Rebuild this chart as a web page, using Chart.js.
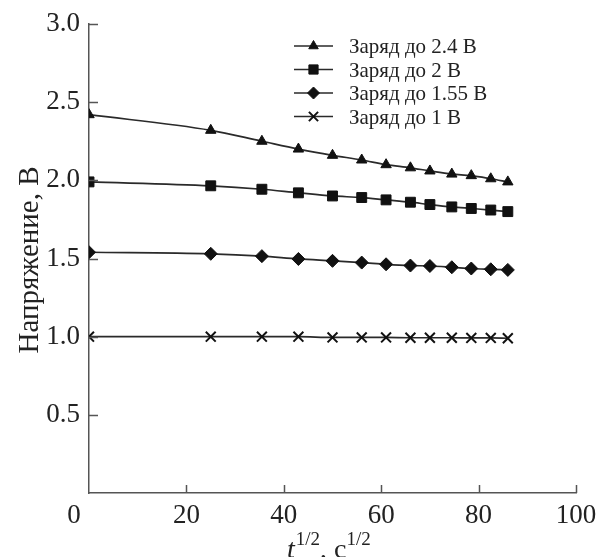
<!DOCTYPE html>
<html>
<head>
<meta charset="utf-8">
<script src="https://cdn.jsdelivr.net/npm/chart.js@4"></script>
<style>
  html, body { margin: 0; padding: 0; background: #fff; }
  #chart { display: block; }
</style>
</head>
<body>
<canvas id="chart" width="596" height="557"></canvas>
<script>
// t^(1/2) values
const sqrtTime = [0, 25, 35.5, 43, 50, 56, 61, 66, 70, 74.5, 78.5, 82.5, 86];

const seriesLabels = ["Заряд до 2.4 В", "Заряд до 2 В", "Заряд до 1.55 В", "Заряд до 1 В"];

const charge24 = [2.42, 2.32, 2.25, 2.20, 2.16, 2.13, 2.10, 2.08, 2.06, 2.04, 2.03, 2.01, 1.99];
const charge2 = [1.99, 1.965, 1.943, 1.92, 1.90, 1.89, 1.875, 1.86, 1.845, 1.83, 1.82, 1.81, 1.80];
const charge155 = [1.54, 1.53, 1.515, 1.497, 1.485, 1.474, 1.463, 1.455, 1.452, 1.444, 1.436, 1.431, 1.427];
const charge1 = [1.0, 1.0, 1.0, 1.0, 0.995, 0.995, 0.995, 0.993, 0.993, 0.993, 0.992, 0.992, 0.99];

const xTicks = [0, 20, 40, 60, 80, 100];
const yTicks = [0, 0.5, 1.0, 1.5, 2.0, 2.5, 3.0];

const FONT = "'Liberation Serif', 'DejaVu Serif', serif";
const LINE = "#2a2a2a";
const MARK = "#111";
const AXIS = "#555";
const TICK_SIZE = 27;

const styles = [
  { pointStyle: "triangle", radius: 6, borderWidth: 1 },
  { pointStyle: "rect", radius: 7, borderWidth: 1 },
  { pointStyle: "rectRot", radius: 6.5, borderWidth: 1 },
  { pointStyle: "crossRot", radius: 7, borderWidth: 2 },
];

function toPoints(values) {
  return sqrtTime.map((t, i) => ({ x: t, y: values[i] }));
}

const allSeries = [charge24, charge2, charge155, charge1];

const datasets = allSeries.map((vals, i) => ({
  label: seriesLabels[i],
  data: toPoints(vals),
  borderColor: LINE,
  borderWidth: 1.7,
  backgroundColor: MARK,
  pointBackgroundColor: MARK,
  pointBorderColor: MARK,
  pointStyle: styles[i].pointStyle,
  pointRadius: styles[i].radius,
  pointBorderWidth: styles[i].borderWidth,
  cubicInterpolationMode: "monotone",
  fill: false,
}));

function noScalePadding(s) {
  s.paddingLeft = 0;
  s.paddingRight = 0;
  s.paddingTop = 0;
  s.paddingBottom = 0;
}

// tick marks on the inside, shared "0", legend and axis titles
const decorPlugin = {
  id: "decor",
  afterDraw(chart) {
    const { ctx, chartArea, scales } = chart;
    const xs = scales.x, ys = scales.y;
    ctx.save();
    ctx.strokeStyle = AXIS;
    ctx.lineWidth = 1.5;
    ctx.beginPath();
    yTicks.forEach(v => {
      if (v === 0) return;
      const py = Math.round(ys.getPixelForValue(v)) + 0.5;
      ctx.moveTo(chartArea.left, py);
      ctx.lineTo(chartArea.left + 9, py);
    });
    xTicks.forEach(v => {
      if (v === 0) return;
      const px = Math.round(xs.getPixelForValue(v)) + 0.5;
      ctx.moveTo(px, chartArea.bottom);
      ctx.lineTo(px, chartArea.bottom - 8);
    });
    ctx.stroke();

    // common origin label
    ctx.fillStyle = "#222";
    ctx.font = TICK_SIZE + "px " + FONT;
    ctx.textAlign = "center";
    ctx.textBaseline = "middle";
    ctx.fillText("0", xs.getPixelForValue(0) - 15, chartArea.bottom + 23);

    // legend
    chart.data.datasets.forEach((ds, i) => {
      const y = 46 + i * 23.5;
      ctx.strokeStyle = LINE;
      ctx.lineWidth = 1.5;
      ctx.beginPath();
      ctx.moveTo(294, y);
      ctx.lineTo(333, y);
      ctx.stroke();
      ctx.fillStyle = MARK;
      ctx.strokeStyle = MARK;
      ctx.lineWidth = styles[i].borderWidth;
      Chart.helpers.drawPoint(ctx, {
        pointStyle: styles[i].pointStyle,
        radius: styles[i].radius - 0.5,
        rotation: 0,
        borderWidth: styles[i].borderWidth,
      }, 313.5, y);
      ctx.fillStyle = "#222";
      ctx.font = "21px " + FONT;
      ctx.textAlign = "left";
      ctx.textBaseline = "alphabetic";
      ctx.fillText(ds.label, 349, y + 7);
    });

    // y title
    ctx.save();
    ctx.translate(30, 260);
    ctx.rotate(-Math.PI / 2);
    ctx.font = "29px " + FONT;
    ctx.textAlign = "center";
    ctx.textBaseline = "middle";
    ctx.fillStyle = "#222";
    ctx.fillText("Напряжение, В", 0, 0);
    ctx.restore();

    // x title: t^(1/2), c^(1/2)
    const parts = [
      { text: "t", font: "italic 28px " + FONT, dy: 0 },
      { text: "1/2", font: "19px " + FONT, dy: -13 },
      { text: ", c", font: "28px " + FONT, dy: 0 },
      { text: "1/2", font: "19px " + FONT, dy: -13 },
    ];
    let x = 287;
    const base = 558;
    ctx.textAlign = "left";
    ctx.textBaseline = "alphabetic";
    parts.forEach(p => {
      ctx.font = p.font;
      ctx.fillText(p.text, x, base + p.dy);
      x += ctx.measureText(p.text).width + (p.text === "t" ? 1 : 0);
    });
    ctx.restore();
  },
};

new Chart(document.getElementById("chart"), {
  type: "line",
  data: { datasets: datasets },
  options: {
    responsive: false,
    animation: false,
    layout: { padding: { top: 24, right: 20, left: 0, bottom: 0 } },
    plugins: {
      legend: { display: false },
      tooltip: { enabled: false },
    },
    scales: {
      x: {
        type: "linear",
        min: 0,
        max: 100,
        afterFit: s => { s.height = 64; noScalePadding(s); },
        afterBuildTicks: s => { s.ticks = xTicks.map(v => ({ value: v })); },
        grid: { display: false, drawTicks: false },
        border: { display: true, color: AXIS, width: 1.5 },
        ticks: {
          color: "#222",
          font: { family: FONT, size: TICK_SIZE },
          padding: 7,
          maxRotation: 0,
          callback: v => (v === 0 ? "" : String(v)),
        },
      },
      y: {
        type: "linear",
        min: 0,
        max: 3,
        afterFit: s => { s.width = 89; noScalePadding(s); },
        afterBuildTicks: s => { s.ticks = yTicks.map(v => ({ value: v })); },
        grid: { display: false, drawTicks: false },
        border: { display: true, color: AXIS, width: 1.5 },
        ticks: {
          color: "#222",
          font: { family: FONT, size: TICK_SIZE },
          padding: 9,
          callback: v => (v === 0 ? "" : v.toFixed(1)),
        },
      },
    },
  },
  plugins: [decorPlugin],
});
</script>
</body>
</html>
